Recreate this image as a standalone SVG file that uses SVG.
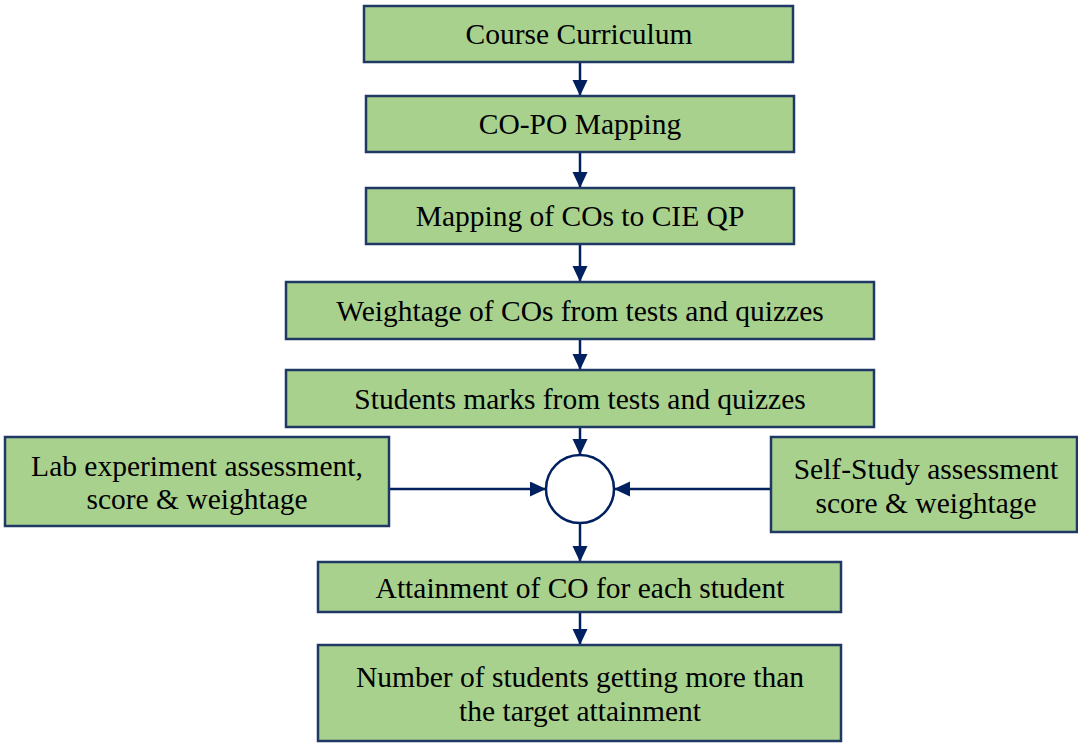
<svg xmlns="http://www.w3.org/2000/svg" width="1078" height="746" viewBox="0 0 1078 746">
<style>
.box{fill:#A9D18E;stroke:#1F3864;stroke-width:2.5}
.t{font-family:"Liberation Serif","Times New Roman",serif;font-size:29.5px;fill:#000;text-anchor:middle}
.c{stroke:#002060;stroke-width:2.5;fill:none;marker-end:url(#ah)}
</style>
<defs>
<marker id="ah" markerUnits="userSpaceOnUse" markerWidth="16" markerHeight="16" refX="16" refY="7.5" orient="auto">
<path d="M0,0 L16,7.5 L0,15 z" fill="#002060"/>
</marker>
</defs>
<rect width="1078" height="746" fill="#fff"/>
<g id="connectors">
<line class="c" x1="580" y1="62" x2="580" y2="96"/>
<line class="c" x1="580" y1="152" x2="580" y2="188"/>
<line class="c" x1="580" y1="244" x2="580" y2="282"/>
<line class="c" x1="580" y1="339" x2="580" y2="370"/>
<line class="c" x1="580" y1="427" x2="580" y2="455"/>
<line class="c" x1="389" y1="489" x2="546" y2="489"/>
<line class="c" x1="771" y1="489" x2="614" y2="489"/>
<line class="c" x1="580" y1="523" x2="580" y2="562"/>
<line class="c" x1="580" y1="612" x2="580" y2="645"/>
</g>
<g id="n1"><rect class="box" x="364" y="6" width="429" height="56"/><text class="t" x="579" y="44">Course Curriculum</text></g>
<g id="n2"><rect class="box" x="366" y="96" width="428" height="56"/><text class="t" x="580" y="134">CO-PO Mapping</text></g>
<g id="n3"><rect class="box" x="366" y="188" width="428" height="56"/><text class="t" x="580" y="226">Mapping of COs to CIE QP</text></g>
<g id="n4"><rect class="box" x="286" y="282" width="588" height="57"/><text class="t" x="580" y="321">Weightage of COs from tests and quizzes</text></g>
<g id="n5"><rect class="box" x="286" y="370" width="588" height="57"/><text class="t" x="580" y="409">Students marks from tests and quizzes</text></g>
<g id="n6"><rect class="box" x="5" y="437" width="384" height="89"/><text class="t" x="197" y="476">Lab experiment assessment,</text><text class="t" x="197" y="509">score &amp; weightage</text></g>
<g id="n7"><rect class="box" x="771" y="437" width="306" height="95"/><text class="t" x="926" y="479">Self-Study assessment</text><text class="t" x="926" y="513">score &amp; weightage</text></g>
<g id="join"><circle cx="580" cy="489" r="34" fill="#fff" stroke="#002060" stroke-width="2.5"/></g>
<g id="n8"><rect class="box" x="318" y="562" width="523" height="50"/><text class="t" x="580" y="598">Attainment of CO for each student</text></g>
<g id="n9"><rect class="box" x="318" y="645" width="523" height="96"/><text class="t" x="580" y="687">Number of students getting more than</text><text class="t" x="580" y="721">the target attainment</text></g>
</svg>
